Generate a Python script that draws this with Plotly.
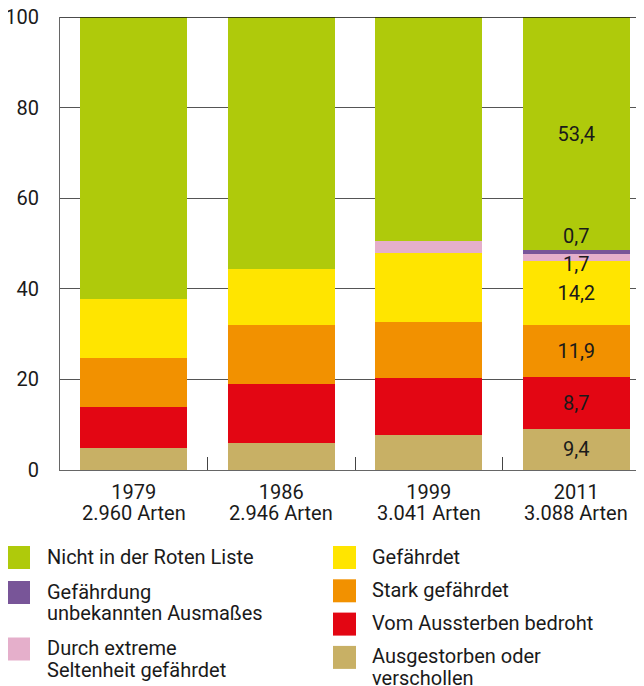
import plotly.graph_objects as go

# ---------------- data ----------------
years = ["1979", "1986", "1999", "2011"]
species_counts = ["2.960 Arten", "2.946 Arten", "3.041 Arten", "3.088 Arten"]

# shares in percent, stacked bottom -> top
ausgestorben = [4.9, 6.0, 7.7, 9.1]
vom_aussterben = [8.9, 13.0, 12.6, 11.5]
stark_gefaehrdet = [11.0, 13.0, 12.4, 11.5]
gefaehrdet = [13.0, 12.4, 15.2, 14.0]
extreme_seltenheit = [0.0, 0.0, 2.7, 1.6]
unbekannt = [0.0, 0.0, 0.0, 0.8]
nicht_rote_liste = [62.2, 55.6, 49.4, 51.5]

# value labels printed in the 2011 bar
label_ausgestorben = ["", "", "", "9,4"]
label_vom_aussterben = ["", "", "", "8,7"]
label_stark = ["", "", "", "11,9"]
label_gefaehrdet = ["", "", "", "14,2"]
label_extreme = "1,7"
label_unbekannt = "0,7"
label_nicht = ["", "", "", "53,4"]

y_ticks = [0, 20, 40, 60, 80, 100]

# ---------------- style ----------------
FONT = "Roboto"
TXT = "#1a1a1a"
C_GREEN = "#AFCA0B"
C_PURPLE = "#785598"
C_PINK = "#E5AFCB"
C_YELLOW = "#FFE500"
C_ORANGE = "#F29100"
C_RED = "#E30613"
C_BEIGE = "#C8B065"

# the page body adds an 8px offset; size the figure so it fills the window
OFF = 8
W, H = 644 - OFF, 686 - OFF
ML, MR, MT, MB = 60 - OFF, 0, 17 - OFF, 216
PLOT_W = W - ML - MR
PLOT_H = H - MT - MB


def px_x(px):
    """screen x pixel -> paper coordinate"""
    return (px - OFF - ML) / PLOT_W


def px_y(py):
    """screen y pixel -> paper coordinate"""
    return (H - MB - (py - OFF)) / PLOT_H


series = [
    ("Ausgestorben oder<br>verschollen", ausgestorben, C_BEIGE, label_ausgestorben),
    ("Vom Aussterben bedroht", vom_aussterben, C_RED, label_vom_aussterben),
    ("Stark gefährdet", stark_gefaehrdet, C_ORANGE, label_stark),
    ("Gefährdet", gefaehrdet, C_YELLOW, label_gefaehrdet),
    ("Durch extreme<br>Seltenheit gefährdet", extreme_seltenheit, C_PINK, None),
    ("Gefährdung<br>unbekannten Ausmaßes", unbekannt, C_PURPLE, None),
    ("Nicht in der Roten Liste", nicht_rote_liste, C_GREEN, label_nicht),
]

fig = go.Figure()
for name, vals, col, txt in series:
    fig.add_trace(go.Bar(
        x=years, y=vals, name=name,
        marker=dict(color=col, line=dict(width=0)),
        text=txt if txt else None,
        textposition="inside" if txt else "none",
        insidetextanchor="middle",
        textangle=0,
        insidetextfont=dict(family=FONT, size=20, color=TXT),
        showlegend=False,
        hoverinfo="skip",
    ))

annotations = []
# small-segment labels in the 2011 bar, placed next to their segments
last = len(years) - 1
top_pink = sum(s[1][last] for s in series[:5])
top_purple = top_pink + unbekannt[last]
annotations.append(dict(x=last, y=top_pink, xref="x", yref="y",
                        text=label_extreme, showarrow=False, yanchor="top", yshift=4,
                        font=dict(family=FONT, size=20, color=TXT)))
annotations.append(dict(x=last, y=top_purple, xref="x", yref="y",
                        text=label_unbekannt, showarrow=False, yanchor="bottom", yshift=0,
                        font=dict(family=FONT, size=20, color=TXT)))

# second line of the category labels (number of species)
for i, cnt in enumerate(species_counts):
    annotations.append(dict(x=i, y=0, xref="x", yref="paper", text=cnt,
                            showarrow=False, yanchor="top", yshift=-29,
                            font=dict(family=FONT, size=20, color=TXT)))

# ---------------- manual two-column legend ----------------
legend_left = [
    (["Nicht in der Roten Liste"], C_GREEN),
    (["Gefährdung", "unbekannten Ausmaßes"], C_PURPLE),
    (["Durch extreme", "Seltenheit gefährdet"], C_PINK),
]
legend_right = [
    (["Gefährdet"], C_YELLOW),
    (["Stark gefährdet"], C_ORANGE),
    (["Vom Aussterben bedroht"], C_RED),
    (["Ausgestorben oder", "verschollen"], C_BEIGE),
]

shapes = []
SQ = 23
LINE = 21.5
for items, sq_x, txt_x, step in [(legend_left, 7, 45, 35), (legend_right, 333, 370, 33.3)]:
    top = 546
    for lines, col in items:
        shapes.append(dict(type="rect", xref="paper", yref="paper",
                           x0=px_x(sq_x), x1=px_x(sq_x + SQ),
                           y0=px_y(top), y1=px_y(top + SQ),
                           fillcolor=col, line=dict(width=0), layer="above"))
        for i, ln in enumerate(lines):
            annotations.append(dict(x=px_x(txt_x), y=px_y(top + SQ / 2 - 1 + i * LINE),
                                    xref="paper", yref="paper", text=ln,
                                    showarrow=False, xanchor="left", yanchor="middle",
                                    font=dict(family=FONT, size=20, color=TXT)))
        top += step + LINE * (len(lines) - 1)

# black top frame line at 100 %
shapes.append(dict(type="line", xref="paper", yref="y", x0=0, x1=1,
                   y0=y_ticks[-1], y1=y_ticks[-1],
                   line=dict(color="#111", width=1.5), layer="above"))

fig.update_layout(
    barmode="stack",
    bargap=0.275,
    width=W, height=H,
    margin=dict(l=ML, r=MR, t=MT, b=MB, pad=0, autoexpand=False),
    paper_bgcolor="white",
    plot_bgcolor="white",
    font=dict(family=FONT, size=20, color=TXT),
    showlegend=False,
    annotations=annotations,
    shapes=shapes,
    xaxis=dict(
        type="category",
        range=[-0.5, -0.5 + PLOT_W / 147.5],
        tickson="boundaries",
        ticks="inside", ticklen=13, tickcolor="#444", tickwidth=1,
        showline=True, linecolor="#666", linewidth=1,
        showgrid=False, zeroline=False, automargin=False,
        ticklabelstandoff=4,
        tickfont=dict(family=FONT, size=20, color=TXT),
    ),
    yaxis=dict(
        range=[0, 100],
        tickvals=y_ticks,
        ticks="", ticklabelstandoff=16,
        ticklabeloverflow="allow",
        showline=True, linecolor="#666", linewidth=1,
        showgrid=True, gridcolor="#555", gridwidth=1,
        zeroline=False, automargin=False,
        tickfont=dict(family=FONT, size=20, color=TXT),
    ),
)

fig.write_html("out.html")
